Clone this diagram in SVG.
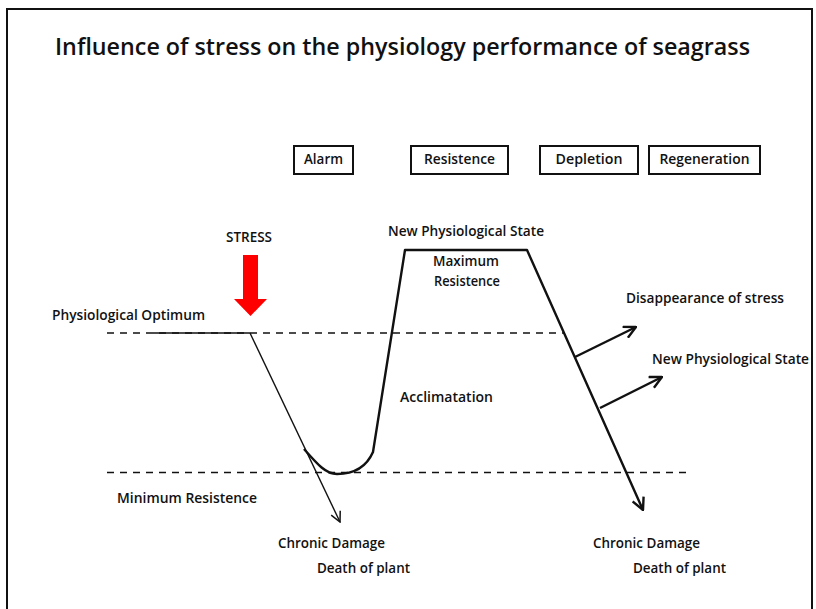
<svg xmlns="http://www.w3.org/2000/svg" width="816" height="609" viewBox="0 0 816 609">
  <style>
    text { font-family: "Open Sans", "Liberation Sans", sans-serif; fill: #111; }
    .title { font-size: 23px; font-weight: 600; }
    .lbl { font-size: 13.5px; font-weight: 600; }
    .box { fill: #fff; stroke: #111; stroke-width: 2; }
    .dash { fill: none; stroke: #111; stroke-width: 1.5; stroke-dasharray: 7 6; }
    .thin { fill: none; stroke: #111; stroke-width: 1.4; }
    .thick { fill: none; stroke: #111; stroke-width: 2.4; stroke-linejoin: round; }
  </style>
  <defs>
    <marker id="arrThin" viewBox="0 0 12 12" refX="11" refY="6" markerWidth="12" markerHeight="12" markerUnits="userSpaceOnUse" orient="auto">
      <path d="M1,1 L11,6 L1,11" fill="none" stroke="#111" stroke-width="1.5"/>
    </marker>
    <marker id="arrThick" viewBox="0 0 14 14" refX="13" refY="7" markerWidth="14" markerHeight="14" markerUnits="userSpaceOnUse" orient="auto">
      <path d="M1,1 L13,7 L1,13" fill="none" stroke="#111" stroke-width="2.4"/>
    </marker>
  </defs>

  <rect x="7" y="9" width="805" height="620" fill="#fff" stroke="#111" stroke-width="2"/>

  <g id="title">
    <text class="title" x="55" y="55" textLength="695" lengthAdjust="spacingAndGlyphs">Influence of stress on the physiology performance of seagrass</text>
  </g>

  <g id="phase-alarm">
    <rect class="box" x="294" y="146" width="59" height="28"/>
    <text class="lbl" x="323.5" y="164" text-anchor="middle" textLength="39" lengthAdjust="spacingAndGlyphs">Alarm</text>
  </g>
  <g id="phase-resistence">
    <rect class="box" x="411" y="146" width="97" height="28"/>
    <text class="lbl" x="459.5" y="164" text-anchor="middle" textLength="71" lengthAdjust="spacingAndGlyphs">Resistence</text>
  </g>
  <g id="phase-depletion">
    <rect class="box" x="540" y="146" width="98" height="28"/>
    <text class="lbl" x="589" y="164" text-anchor="middle" textLength="67" lengthAdjust="spacingAndGlyphs">Depletion</text>
  </g>
  <g id="phase-regeneration">
    <rect class="box" x="649" y="146" width="111" height="28"/>
    <text class="lbl" x="704.5" y="164" text-anchor="middle" textLength="90" lengthAdjust="spacingAndGlyphs">Regeneration</text>
  </g>

  <g id="stress">
    <text class="lbl" x="226" y="242" textLength="46" lengthAdjust="spacingAndGlyphs">STRESS</text>
    <polygon points="243,255 258,255 258,299 267,299 250.5,316 234,299 243,299" fill="#ff0000"/>
  </g>

  <g id="labels">
    <text id="physiological-optimum" class="lbl" x="52" y="320" textLength="153" lengthAdjust="spacingAndGlyphs">Physiological Optimum</text>
    <text id="minimum-resistence" class="lbl" x="117" y="503" textLength="140" lengthAdjust="spacingAndGlyphs">Minimum Resistence</text>
    <text id="new-state-top" class="lbl" x="388" y="236" textLength="156" lengthAdjust="spacingAndGlyphs">New Physiological State</text>
    <text id="maximum" class="lbl" x="466" y="266" text-anchor="middle" textLength="66" lengthAdjust="spacingAndGlyphs">Maximum</text>
    <text id="max-resistence" class="lbl" x="467" y="286" text-anchor="middle" textLength="66" lengthAdjust="spacingAndGlyphs">Resistence</text>
    <text id="acclimatation" class="lbl" x="400" y="402" textLength="93" lengthAdjust="spacingAndGlyphs">Acclimatation</text>
    <text id="disappearance" class="lbl" x="626" y="303" textLength="158" lengthAdjust="spacingAndGlyphs">Disappearance of stress</text>
    <text id="new-state-right" class="lbl" x="652" y="364" textLength="157" lengthAdjust="spacingAndGlyphs">New Physiological State</text>
    <text id="chronic-left" class="lbl" x="278" y="548" textLength="107" lengthAdjust="spacingAndGlyphs">Chronic Damage</text>
    <text id="death-left" class="lbl" x="317" y="573" textLength="93" lengthAdjust="spacingAndGlyphs">Death of plant</text>
    <text id="chronic-right" class="lbl" x="593" y="548" textLength="107" lengthAdjust="spacingAndGlyphs">Chronic Damage</text>
    <text id="death-right" class="lbl" x="633" y="573" textLength="93" lengthAdjust="spacingAndGlyphs">Death of plant</text>
  </g>

  <g id="connectors">
    <line class="dash" x1="107" y1="333" x2="565" y2="333"/>
    <line x1="153" y1="333" x2="250" y2="333" stroke="#111" stroke-width="1.5"/>
    <line class="dash" x1="107" y1="472.5" x2="690" y2="472.5"/>
    <line class="thin" x1="250" y1="333" x2="340" y2="522" marker-end="url(#arrThin)"/>
    <path class="thick" d="M304,449 C318,465 326,474 337,474 C352,474 366,468 373,452 L405,250 L527,250 L643,510" marker-end="url(#arrThick)"/>
    <line class="thick" x1="575" y1="357" x2="636" y2="327" marker-end="url(#arrThick)"/>
    <line class="thick" x1="600" y1="408" x2="662" y2="377" marker-end="url(#arrThick)"/>
  </g>
</svg>
